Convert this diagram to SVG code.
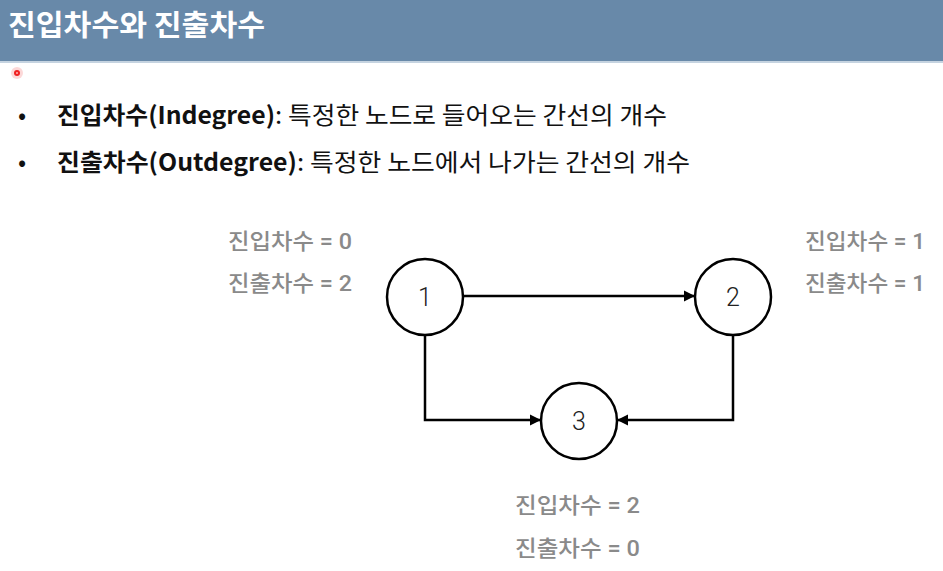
<svg xmlns="http://www.w3.org/2000/svg" width="943" height="571" viewBox="0 0 943 571">
<style>
.title{font-family:"Noto Sans CJK KR",sans-serif;font-size:29px;font-weight:bold;fill:#fff}
.body{font-family:"Noto Sans CJK KR",sans-serif;font-size:24px;fill:#111}
.b{font-weight:bold}
.lbl{font-family:Roboto,"Noto Sans CJK KR",sans-serif;font-size:22px;fill:#8a8a8a;font-weight:500}
.node circle{fill:#fff;stroke:#000;stroke-width:2.5}
.node text{font-family:Roboto,"Liberation Sans",sans-serif;font-size:25px;font-weight:300;fill:#222;text-anchor:middle}
.edge{fill:none;stroke:#000;stroke-width:2.5}
</style>
<defs>
<marker id="ah" viewBox="0 0 10 10" refX="10" refY="5" markerWidth="4.5" markerHeight="4.5" orient="auto" markerUnits="strokeWidth">
<path d="M0,0 L10,5 L0,10 z" fill="#000"/>
</marker>
</defs>
<rect x="0" y="0" width="943" height="571" fill="#fff"/>
<rect x="0" y="0" width="943" height="61" fill="#6889a9"/>
<rect x="0" y="61" width="943" height="2" fill="#c5d3e0"/>
<text class="title" x="8" y="36" textLength="257" lengthAdjust="spacingAndGlyphs">진입차수와 진출차수</text>
<circle cx="17" cy="73" r="6" fill="#fbc8c8" opacity="0.7"/>
<circle cx="17" cy="73" r="3" fill="#f02020"/>
<circle cx="17" cy="73" r="1" fill="#ffb0b0"/>
<text class="body" x="18" y="124">•</text>
<text class="body b" x="57" y="124" textLength="218" lengthAdjust="spacingAndGlyphs">진입차수(Indegree)</text>
<text class="body" x="275" y="124" textLength="392" lengthAdjust="spacingAndGlyphs">: 특정한 노드로 들어오는 간선의 개수</text>
<text class="body" x="18" y="171">•</text>
<text class="body b" x="57" y="171" textLength="240" lengthAdjust="spacingAndGlyphs">진출차수(Outdegree)</text>
<text class="body" x="297" y="171" textLength="393" lengthAdjust="spacingAndGlyphs">: 특정한 노드에서 나가는 간선의 개수</text>
<g id="connectors">
<path class="edge" d="M463,296 H695" marker-end="url(#ah)"/>
<path class="edge" d="M425,335 V420 H541" marker-end="url(#ah)"/>
<path class="edge" d="M733,335 V420 H617" marker-end="url(#ah)"/>
</g>
<g id="node1" class="node"><circle cx="425" cy="297" r="38"/><text x="425" y="306">1</text></g>
<g id="node2" class="node"><circle cx="733" cy="297" r="38"/><text x="733" y="306">2</text></g>
<g id="node3" class="node"><circle cx="579" cy="421" r="38"/><text x="579" y="430">3</text></g>
<g id="labels1">
<text class="lbl" x="228" y="249" textLength="124" lengthAdjust="spacingAndGlyphs">진입차수 = 0</text>
<text class="lbl" x="228" y="291" textLength="124" lengthAdjust="spacingAndGlyphs">진출차수 = 2</text>
</g>
<g id="labels2">
<text class="lbl" x="805" y="249" textLength="120" lengthAdjust="spacingAndGlyphs">진입차수 = 1</text>
<text class="lbl" x="805" y="291" textLength="120" lengthAdjust="spacingAndGlyphs">진출차수 = 1</text>
</g>
<g id="labels3">
<text class="lbl" x="515" y="513" textLength="125" lengthAdjust="spacingAndGlyphs">진입차수 = 2</text>
<text class="lbl" x="515" y="556" textLength="125" lengthAdjust="spacingAndGlyphs">진출차수 = 0</text>
</g>
</svg>
